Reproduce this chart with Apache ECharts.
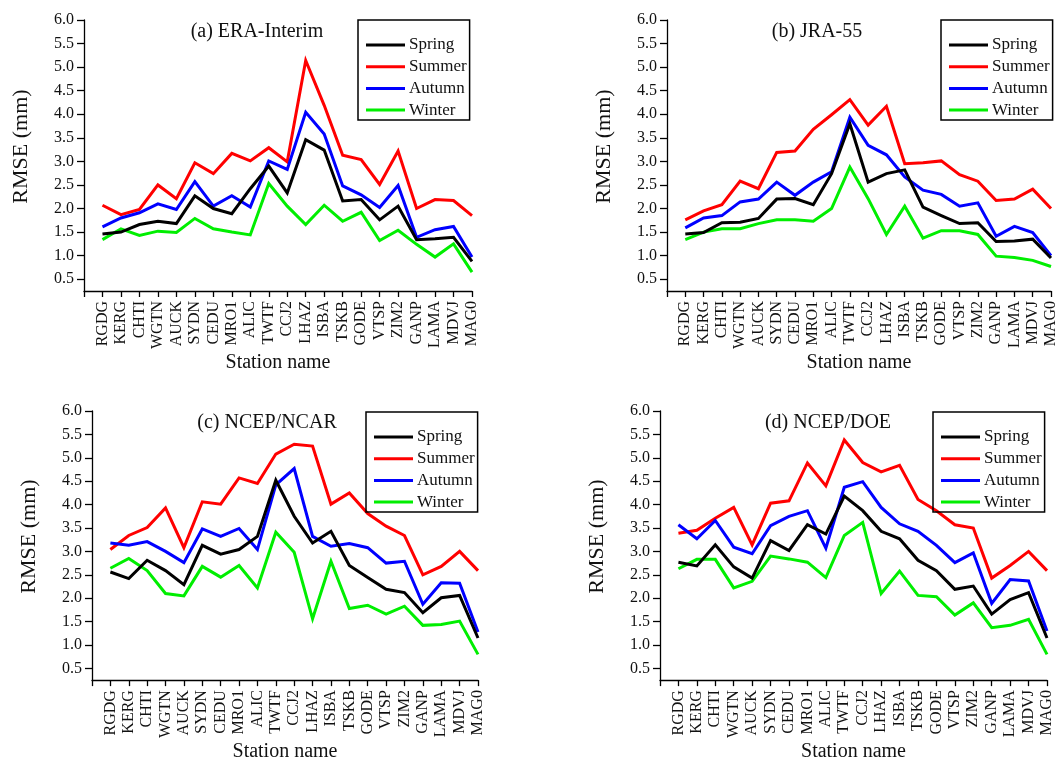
<!DOCTYPE html>
<html>
<head>
<meta charset="utf-8">
<script src="https://cdn.jsdelivr.net/npm/echarts@6/dist/echarts.min.js"></script>
<style>
  html, body { margin: 0; padding: 0; background: #fff; }
  #chart { width: 1059px; height: 763px; }
</style>
</head>
<body>
<div id="chart"></div>
<script>
// Station names along the x axis
const stations = ['RGDG','KERG','CHTI','WGTN','AUCK','SYDN','CEDU','MRO1','ALIC','TWTF',
  'CCJ2','LHAZ','ISBA','TSKB','GODE','VTSP','ZIM2','GANP','LAMA','MDVJ','MAG0'];
const seasons = ['Spring', 'Summer', 'Autumn', 'Winter'];
const yTicks = [0.5, 1.0, 1.5, 2.0, 2.5, 3.0, 3.5, 4.0, 4.5, 5.0, 5.5, 6.0];

// RMSE (mm) per station, ERA-Interim
const eraSpring = [1.46,1.50,1.66,1.73,1.68,2.27,2.00,1.89,2.42,2.90,2.33,3.46,3.24,2.16,2.19,1.76,2.05,1.34,1.36,1.39,0.88];
const eraSummer = [2.07,1.87,1.98,2.50,2.21,2.97,2.74,3.17,3.01,3.29,2.99,5.14,4.19,3.13,3.04,2.51,3.22,2.00,2.19,2.17,1.85];
const eraAutumn = [1.61,1.80,1.91,2.10,1.98,2.57,2.05,2.27,2.03,3.01,2.83,4.04,3.58,2.48,2.29,2.02,2.49,1.39,1.55,1.62,0.97];
const eraWinter = [1.34,1.57,1.43,1.52,1.49,1.79,1.57,1.50,1.44,2.53,2.05,1.66,2.07,1.73,1.92,1.32,1.54,1.24,0.97,1.25,0.65];

// JRA-55
const jraSpring = [1.46,1.49,1.70,1.71,1.79,2.20,2.21,2.08,2.74,3.80,2.56,2.74,2.82,2.03,1.85,1.68,1.70,1.30,1.31,1.35,0.95];
const jraSummer = [1.76,1.95,2.08,2.58,2.42,3.19,3.22,3.68,3.99,4.31,3.77,4.17,2.95,2.97,3.01,2.72,2.58,2.17,2.20,2.41,2.00];
const jraAutumn = [1.59,1.80,1.85,2.14,2.20,2.56,2.28,2.56,2.78,3.94,3.34,3.14,2.67,2.39,2.30,2.05,2.12,1.41,1.62,1.49,1.00];
const jraWinter = [1.34,1.50,1.57,1.57,1.68,1.76,1.76,1.73,2.00,2.88,2.21,1.45,2.05,1.37,1.53,1.53,1.45,0.99,0.96,0.90,0.77];

// NCEP/NCAR
const ncarSpring = [2.56,2.42,2.81,2.59,2.29,3.13,2.94,3.04,3.32,4.52,3.75,3.18,3.43,2.70,2.44,2.19,2.12,1.69,2.01,2.06,1.15];
const ncarSummer = [3.04,3.34,3.51,3.93,3.08,4.06,4.01,4.57,4.45,5.08,5.29,5.25,4.01,4.25,3.81,3.54,3.34,2.50,2.68,3.00,2.59];
const ncarAutumn = [3.18,3.13,3.21,3.00,2.76,3.48,3.32,3.49,3.04,4.42,4.77,3.32,3.11,3.17,3.08,2.75,2.79,1.87,2.33,2.32,1.28];
const ncarWinter = [2.64,2.85,2.59,2.10,2.05,2.68,2.45,2.70,2.22,3.41,2.98,1.56,2.79,1.78,1.85,1.66,1.83,1.42,1.44,1.51,0.80];

// NCEP/DOE
const doeSpring = [2.77,2.69,3.14,2.67,2.43,3.23,3.02,3.57,3.37,4.18,3.87,3.43,3.27,2.81,2.59,2.19,2.26,1.66,1.97,2.12,1.15];
const doeSummer = [3.39,3.45,3.71,3.94,3.14,4.03,4.08,4.89,4.40,5.38,4.90,4.70,4.84,4.11,3.87,3.57,3.50,2.43,2.70,3.00,2.59];
const doeAutumn = [3.57,3.27,3.66,3.09,2.95,3.55,3.75,3.87,3.07,4.37,4.49,3.94,3.59,3.43,3.13,2.76,2.97,1.89,2.40,2.37,1.30];
const doeWinter = [2.63,2.83,2.83,2.22,2.36,2.90,2.84,2.77,2.44,3.34,3.62,2.10,2.58,2.06,2.03,1.64,1.90,1.37,1.42,1.55,0.80];

const seasonColors = ['#000000', '#ff0000', '#0000ff', '#00ee00'];
const FONT = '"Liberation Serif", "Times New Roman", serif';
const INK = '#111';

const panels = [
  { title: '(a) ERA-Interim', tx: 257, ty: 32,
    grid: { left: 84, top: 20, width: 388, height: 271 }, legend: { left: 358, top: 20 },
    values: [eraSpring, eraSummer, eraAutumn, eraWinter] },
  { title: '(b) JRA-55', tx: 817, ty: 32,
    grid: { left: 667, top: 20, width: 387, height: 271 }, legend: { left: 941, top: 20 },
    values: [jraSpring, jraSummer, jraAutumn, jraWinter] },
  { title: '(c) NCEP/NCAR', tx: 267, ty: 423,
    grid: { left: 92, top: 411, width: 386, height: 271 }, legend: { left: 366, top: 412 },
    values: [ncarSpring, ncarSummer, ncarAutumn, ncarWinter] },
  { title: '(d) NCEP/DOE', tx: 828, ty: 423,
    grid: { left: 660, top: 411, width: 387, height: 271 }, legend: { left: 933, top: 412 },
    values: [doeSpring, doeSummer, doeAutumn, doeWinter] }
];

const axisLine = { show: true, lineStyle: { color: '#000', width: 1.3 } };

const option = {
  animation: false,
  backgroundColor: '#fff',
  grid: panels.map(p => Object.assign({ containLabel: false }, p.grid)),
  xAxis: panels.map((p, k) => ({
    type: 'category',
    gridIndex: k,
    data: [''].concat(stations),
    boundaryGap: false,
    axisLine: axisLine,
    axisTick: { show: true, inside: false, length: 6, interval: 0, lineStyle: { color: '#000', width: 1.3 } },
    axisLabel: { interval: 0, rotate: 90, margin: 10, fontSize: 16, fontFamily: FONT, color: INK },
    splitLine: { show: false },
    name: 'Station name',
    nameLocation: 'middle',
    nameGap: 61,
    nameTextStyle: { fontSize: 20, fontFamily: FONT, color: INK }
  })),
  yAxis: panels.map((p, k) => ({
    type: 'value',
    gridIndex: k,
    min: 0.25,
    max: 6.0,
    axisLine: axisLine,
    axisTick: { show: true, inside: false, length: 7, customValues: yTicks, lineStyle: { color: '#000', width: 1.3 } },
    axisLabel: { customValues: yTicks, formatter: v => v.toFixed(1), margin: 10,
      fontSize: 16, fontFamily: FONT, color: INK },
    splitLine: { show: false },
    name: 'RMSE (mm)',
    nameLocation: 'middle',
    nameGap: 52,
    nameTextStyle: { fontSize: 22, fontFamily: FONT, color: INK, padding: [0, 0, 0, 18] }
  })),
  legend: panels.map(p => ({
    left: p.legend.left,
    top: p.legend.top,
    orient: 'vertical',
    data: seasons,
    icon: 'rect',
    itemWidth: 39,
    itemHeight: 3,
    itemGap: 3.7,
    padding: [16, 3, 1, 8],
    borderColor: '#000',
    borderWidth: 1.5,
    borderRadius: 0,
    selectedMode: false,
    textStyle: { fontSize: 17, lineHeight: 18, fontFamily: FONT, color: INK, padding: [0, 0, 0, -1] }
  })),
  graphic: panels.map(p => ({
    type: 'text',
    x: p.tx,
    y: p.ty,
    style: { text: p.title, font: '20px ' + FONT, fill: INK, textAlign: 'center', textVerticalAlign: 'middle' }
  })),
  series: []
};

panels.forEach((p, k) => {
  seasons.forEach((s, j) => {
    option.series.push({
      type: 'line',
      name: s,
      xAxisIndex: k,
      yAxisIndex: k,
      data: stations.map((st, i) => [st, p.values[j][i]]),
      symbol: 'none',
      showSymbol: false,
      lineStyle: { color: seasonColors[j], width: 3, join: 'miter' },
      itemStyle: { color: seasonColors[j] },
      emphasis: { disabled: true },
      z: 2 + (j === 0 ? 3 : j === 2 ? 2 : j === 1 ? 1 : 0)
    });
  });
});

const chart = echarts.init(document.getElementById('chart'), null, { renderer: 'canvas' });
chart.setOption(option);
</script>
</body>
</html>
